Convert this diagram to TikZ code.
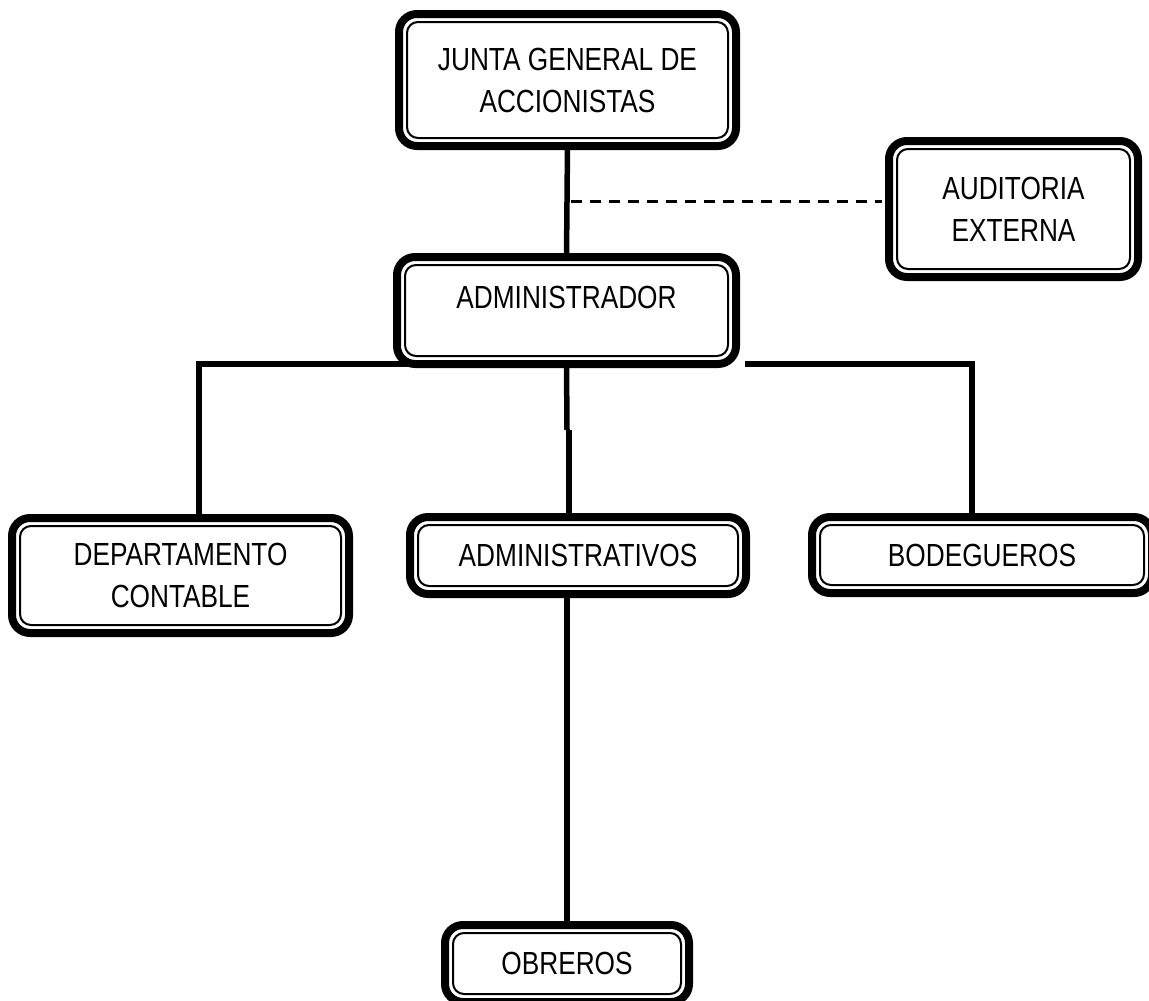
\documentclass[tikz,border=0pt]{standalone}
\usepackage{fontspec}
\setmainfont{Liberation Sans}[FakeStretch=0.82]
\usetikzlibrary{backgrounds}
\begin{document}
\begin{tikzpicture}[x=1pt,y=-1pt,
  orgbox/.style={draw, line width=8pt, rounded corners=18pt, fill=white,
    outer sep=0pt, inner sep=0pt, align=center,
    font=\fontsize{32}{42}\selectfont},
  innerline/.style={line width=2pt, rounded corners=11pt},
  conn/.style={line width=5.5pt},
  dashconn/.style={line width=3pt, dash pattern=on 11pt off 8pt}]
\useasboundingbox (0,0) rectangle (1149,1001);

\node[orgbox, minimum width=337pt, minimum height=132pt] (j) at (567.5,80)
  {JUNTA GENERAL DE\\ACCIONISTAS};
\node[orgbox, minimum width=249pt, minimum height=136pt] (au) at (1013.5,209)
  {AUDITORIA\\EXTERNA};
\node[orgbox, minimum width=339pt, minimum height=107pt,
  text height=23pt, text depth=27pt] (ad) at (566.5,310.5) {ADMINISTRADOR};
\node[orgbox, minimum width=337pt, minimum height=115pt] (dc) at (180.5,575.5)
  {DEPARTAMENTO\\CONTABLE};
\node[orgbox, minimum width=336pt, minimum height=77pt] (av) at (578,555.5)
  {ADMINISTRATIVOS};
\node[orgbox, minimum width=340pt, minimum height=76pt] (bo) at (982,555)
  {BODEGUEROS};
\node[orgbox, minimum width=244pt, minimum height=77pt] (ob) at (567,963.5)
  {OBREROS};

\foreach \n in {j,au,ad,dc,av,bo,ob}
  \draw[innerline] ([xshift=8pt,yshift=-8pt]\n.north west) rectangle
                   ([xshift=-8pt,yshift=8pt]\n.south east);

\coordinate (d0) at (567.5,201);
\coordinate (bl) at (199,364);
\coordinate (brs) at (745,364);
\coordinate (br) at (972,364);
\coordinate (jg1) at (567,430);
\coordinate (jg2) at (569,430);

\begin{scope}[on background layer]
  \draw[conn] (j.south) -- (ad.north);
  \draw[conn] (bl |- dc.north) -- (bl) -- (ad.south |- bl);
  \draw[conn] (ad.south) -- (jg1);
  \draw[conn] (jg2) -- (jg2 |- av.north);
  \draw[conn] (br |- bo.north) -- (br) -- (brs);
  \draw[conn] (ob.north |- av.south) -- (ob.north);
\end{scope}
\draw[dashconn] ([xshift=3pt]d0) -- ([xshift=-7pt]au.west |- d0);
\end{tikzpicture}
\end{document}
